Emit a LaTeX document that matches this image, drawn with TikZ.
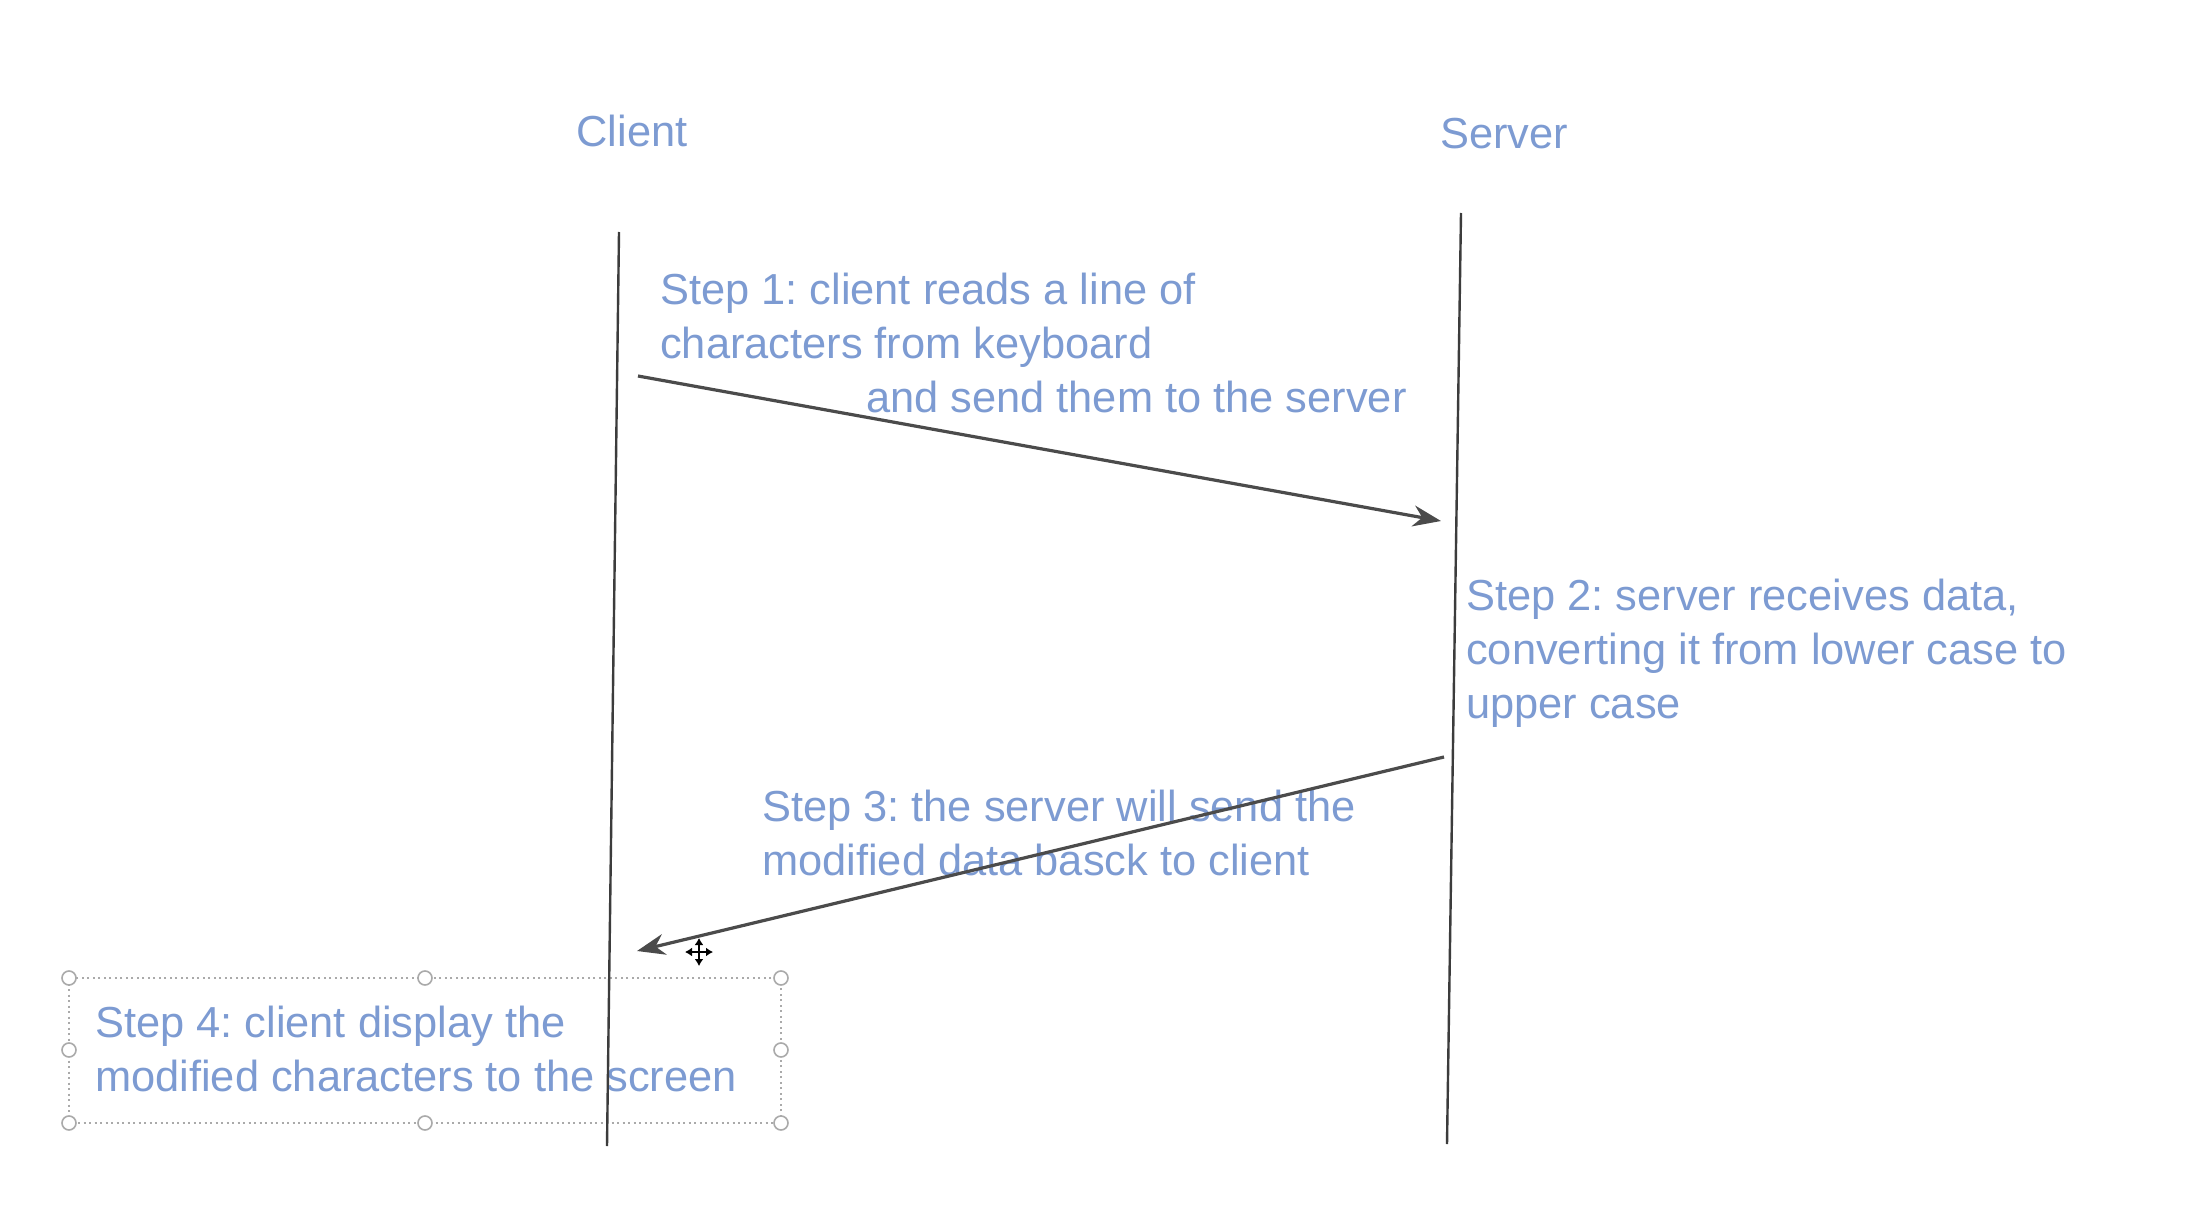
\documentclass[tikz,border=0pt]{standalone}
\usepackage{fontspec}
\setmainfont{Liberation Sans}
\usetikzlibrary{arrows.meta}
\definecolor{txtblue}{RGB}{125,155,210}
\definecolor{linegray}{RGB}{60,60,60}
\definecolor{msggray}{RGB}{75,75,75}
\definecolor{handlegray}{RGB}{170,170,170}
\frenchspacing
\begin{document}
\begin{tikzpicture}[x=1pt,y=-1pt,
  lbl/.style={text=txtblue,font=\fontsize{43.4}{54}\selectfont,inner sep=0pt,align=left,anchor=base west},
  title/.style={text=txtblue,font=\fontsize{43.4}{54}\selectfont,inner sep=0pt,anchor=base},
  lifeline/.style={draw=linegray,line width=2.4pt},
  msg/.style={draw=msggray,line width=3.2pt,-{Stealth[length=28pt,width=21pt,inset=9pt]}},
  selbox/.style={draw=handlegray,line width=1.8pt,dash pattern=on 2pt off 3.5pt},
  handle/.style={circle,draw=handlegray,fill=white,line width=1.6pt,minimum size=14pt,inner sep=0pt}]
\useasboundingbox[fill=white] (0,0) rectangle (2198,1222);

% titles
\node[title] (client) at (632,147) {Client};
\node[title] (server) at (1504,149) {Server};

% lifelines
\coordinate (ctop) at (619,232);
\coordinate (cbot) at (607,1146);
\coordinate (stop) at (1461,213);
\coordinate (sbot) at (1447,1144);

% step texts (anchored at the baseline of the last line)
\node[lbl] (s1) at (660,359) {Step 1: client reads a line of\\characters from keyboard};
\node[lbl] (s1b) at (866,413) {and send them to the server};
\node[lbl] (s2) at (1466,718) {Step 2: server receives data,\\converting it from lower case to\\upper case};
\node[lbl] (s3) at (762,875) {Step 3: the server will send the\\modified data basck to client};

% selection box for step 4
\coordinate (bA) at (69,978);
\coordinate (bB) at (781,1123);
\draw[selbox] (bA) rectangle (bB);
\node[lbl] (s4) at (95,1091) {Step 4: client display the\\modified characters to the screen};
\foreach \px in {69,425,781}{
  \node[handle] at (\px,978) {};
  \node[handle] at (\px,1123) {};
}
\node[handle] at (69,1050) {};
\node[handle] at (781,1050) {};

\draw[lifeline] (ctop) -- (cbot);
\draw[lifeline] (stop) -- (sbot);

% messages
\coordinate (m1a) at (638,376);
\coordinate (m1b) at (1441,521);
\coordinate (m2a) at (1444,757);
\coordinate (m2b) at (637,951);
\draw[msg] (m1a) -- (m1b);
\draw[msg] (m2a) -- (m2b);

% move cursor
\coordinate (cur) at (699,952);
\foreach \ang in {0,90,180,270}{
  \draw[black,line width=2.4pt,-{Latex[length=7pt,width=9pt]}] (cur) -- ++(\ang:14);
}
\end{tikzpicture}
\end{document}
